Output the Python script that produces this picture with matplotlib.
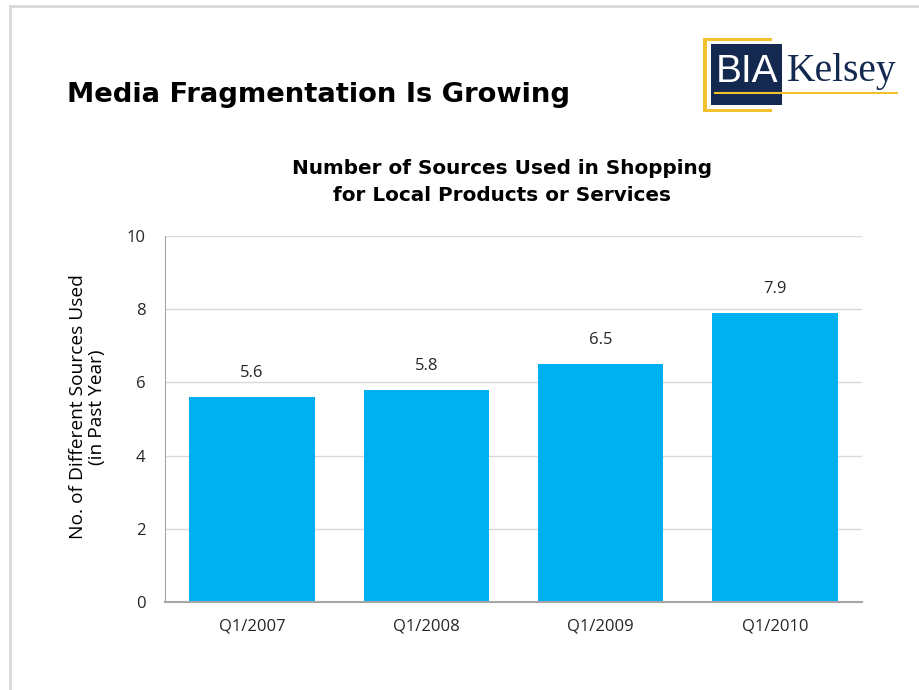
import matplotlib
matplotlib.use("Agg")
import matplotlib.pyplot as plt
from matplotlib.patches import Rectangle
from matplotlib.lines import Line2D

categories = ["Q1/2007", "Q1/2008", "Q1/2009", "Q1/2010"]
values = [5.6, 5.8, 6.5, 7.9]
value_labels = ["5.6", "5.8", "6.5", "7.9"]
y_ticks = [0, 2, 4, 6, 8, 10]

W, H = 919, 690
fig = plt.figure(figsize=(W / 100, H / 100), dpi=100)
fig.patch.set_facecolor("white")

def fx(px):
    return px / W

def fy(py):
    return 1 - py / H

# slide border
fig.add_artist(Line2D([fx(10), fx(10)], [fy(6), fy(690)], color="#d9d9d9", lw=2))
fig.add_artist(Line2D([fx(10), fx(919)], [fy(6), fy(6)], color="#d9d9d9", lw=2))

# main title
fig.text(fx(67), fy(95), "Media Fragmentation Is Growing", fontsize=19.7, fontweight="bold",
         family="DejaVu Sans", ha="left", va="center", color="black")

# logo
fig.add_artist(Rectangle((fx(703), fy(112)), fx(772) - fx(703), fy(38) - fy(112),
                         facecolor="#f2c12e", edgecolor="none"))
fig.add_artist(Rectangle((fx(707), fy(109)), fx(786) - fx(707), fy(41) - fy(109),
                         facecolor="white", edgecolor="none"))
fig.add_artist(Rectangle((fx(711), fy(105)), fx(782) - fx(711), fy(44) - fy(105),
                         facecolor="#14294f", edgecolor="none"))
fig.text(fx(747), fy(72), "BIA", fontsize=28, color="white", family="Liberation Sans",
         ha="center", va="center")
fig.text(fx(787), fy(71), "Kelsey", fontsize=28.5, color="#14294f", family="Liberation Serif",
         ha="left", va="center")
fig.add_artist(Line2D([fx(715), fx(897)], [fy(93), fy(93)], color="#f2c12e", lw=1.5))

# chart
ax = fig.add_axes([fx(165), fy(602), fx(862) - fx(165), fy(236) - fy(602)])
x = list(range(len(categories)))
ax.bar(x, values, width=0.72, color="#00b0f0", zorder=2)
ax.set_xlim(-0.5, len(categories) - 0.5)
ax.set_ylim(0, 10)
ax.set_yticks(y_ticks)
ax.set_yticklabels([str(t) for t in y_ticks], fontsize=12, family="Open Sans", color="#262626")
ax.set_xticks(x)
ax.set_xticklabels(categories, fontsize=12, family="Open Sans", color="#262626")
ax.tick_params(axis="both", length=0)
ax.tick_params(axis="y", pad=14)
ax.tick_params(axis="x", pad=12)
ax.grid(axis="y", color="#d9d9d9", lw=1, zorder=0)
for s in ["top", "right"]:
    ax.spines[s].set_visible(False)
ax.spines["left"].set_color("#a6a6a6")
ax.spines["bottom"].set_color("#a6a6a6")
ax.spines["bottom"].set_linewidth(1.5)

for xi, v, lab in zip(x, values, value_labels):
    ax.annotate(lab, (xi, v), xytext=(0, 17), textcoords="offset points", ha="center",
                va="center", fontsize=12, family="Open Sans", color="#262626")

ax.set_ylabel("No. of Different Sources Used\n(in Past Year)", fontsize=13.8,
              family="Open Sans", color="black", linespacing=1.1)
ax.yaxis.set_label_coords(-0.084, 0.533)

fig.text(fx(502), fy(182), "Number of Sources Used in Shopping\nfor Local Products or Services",
         fontsize=14.4, fontweight="bold", family="DejaVu Sans", ha="center", va="center",
         linespacing=1.55)

fig.savefig("out.png", dpi=100)
